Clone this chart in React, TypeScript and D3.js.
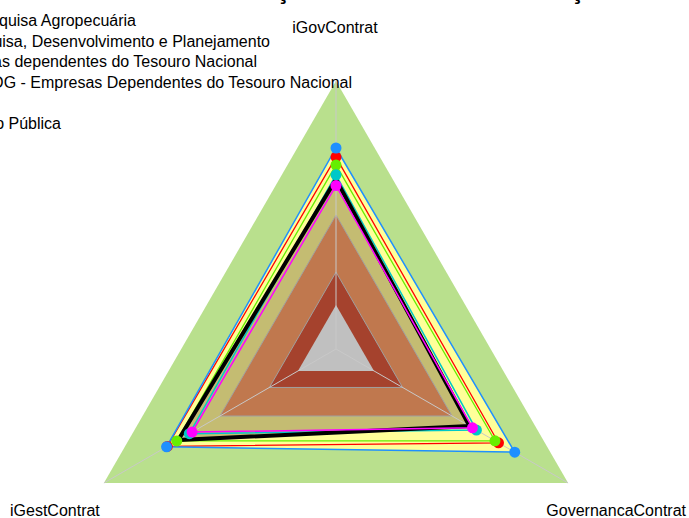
import React from "react";
import * as d3 from "d3";

const axes = ["iGovContrat", "GovernancaContrat", "iGestContrat"];

const legendNames = [
  "Empresa Brasileira de Pesquisa Agropecuária",
  "Empresas de Pesquisa, Desenvolvimento e Planejamento",
  "Empresas dependentes do Tesouro Nacional",
  "SEST/MPDG - Empresas Dependentes do Tesouro Nacional",
  "",
  "Administração Pública",
];

// values per axis, order: iGovContrat, GovernancaContrat, iGestContrat
const blueVals = [0.75, 0.77, 0.73];
const redVals = [0.716, 0.7, 0.727];
const limeVals = [0.687, 0.685, 0.686];
const blackVals = [0.633, 0.575, 0.68];
const cyanVals = [0.65, 0.605, 0.632];
const magentaVals = [0.61, 0.588, 0.62];

// background bands (outer limit of each level)
const bandLimits = [1.0, 0.5, 0.287, 0.164];
const bandColors = ["#b9e08d", "#c0784e", "#a5422d", "#c0c0c0"];

const W = 689;
const H = 518;
const cx = 336;
const cy = 349;

export default function App() {
  const r = d3.scaleLinear().domain([0, 1]).range([0, 268]);
  const angle = (i: number) => -Math.PI / 2 + (i * 2 * Math.PI) / axes.length;

  const pt = (v: number, i: number): [number, number] => [
    cx + r(v) * Math.cos(angle(i)),
    cy + r(v) * Math.sin(angle(i)),
  ];

  const line = d3.line<[number, number]>().curve(d3.curveLinearClosed);
  const poly = (vals: number[]) => line(vals.map((v, i) => pt(v, i))) as string;
  const tri = (v: number) => poly(axes.map(() => v));

  const lineSeries = [
    { vals: redVals, color: "#ff0000", w: 1.3, dot: true },
    { vals: blueVals, color: "#1e90ff", w: 1.5, dot: true },
    { vals: limeVals, color: "#66ee00", w: 1.3, dot: true },
    { vals: cyanVals, color: "#00c8c8", w: 1.5, dot: true },
    { vals: blackVals, color: "#000000", w: 4, dot: false },
    { vals: magentaVals, color: "#ff00ff", w: 1.5, dot: true },
  ];

  const legendEnds = [136, 270, 257, 352, 0, 61];
  const legendBase = [26, 47, 67, 88, 108, 129];

  return (
    <svg
      width={W}
      height={H}
      style={{ position: "absolute", left: 0, top: 0, background: "#fff" }}
      fontFamily="Liberation Sans, Arial, sans-serif"
    >
      <text x={162} y={-1.5} fontSize={24.5} fontWeight="bold">
        Governança e Gestão das Contratações
      </text>

      {/* outer band */}
      <path d={tri(bandLimits[0])} fill={bandColors[0]} />
      {/* yellow and tan fills following series */}
      <path d={poly(blueVals)} fill="#ffff99" />
      <path d={poly(blackVals)} fill="#c4bc72" />
      {bandLimits.slice(1).map((b, i) => (
        <path key={b} d={tri(b)} fill={bandColors[i + 1]} />
      ))}

      {/* grid */}
      {[0.287, 0.5].map((g) => (
        <path key={g} d={tri(g)} fill="none" stroke="#a0a0a0" strokeWidth={1} />
      ))}
      {axes.map((a, i) => {
        const [x, y] = pt(1, i);
        return <line key={a} x1={cx} y1={cy} x2={x} y2={y} stroke="#c8c8c8" strokeWidth={1} />;
      })}

      {lineSeries.map((s, k) => (
        <path key={k} d={poly(s.vals)} fill="none" stroke={s.color} strokeWidth={s.w} strokeLinejoin="miter" />
      ))}
      {lineSeries
        .filter((s) => s.dot)
        .map((s, k) =>
          s.vals.map((v, i) => {
            const [x, y] = pt(v, i);
            return <circle key={`${k}-${i}`} cx={x} cy={y} r={5.5} fill={s.color} />;
          })
        )}

      {/* axis labels */}
      <text x={335} y={33} fontSize={16} textAnchor="middle">
        {axes[0]}
      </text>
      <text x={686} y={516} fontSize={16} textAnchor="end">
        {axes[1]}
      </text>
      <text x={10} y={516} fontSize={16} textAnchor="start">
        {axes[2]}
      </text>

      {/* legend (partly outside the view) */}
      {legendNames.map((n, i) => (
        <text key={i} x={legendEnds[i]} y={legendBase[i]} fontSize={16} textAnchor="end">
          {n}
        </text>
      ))}
    </svg>
  );
}
